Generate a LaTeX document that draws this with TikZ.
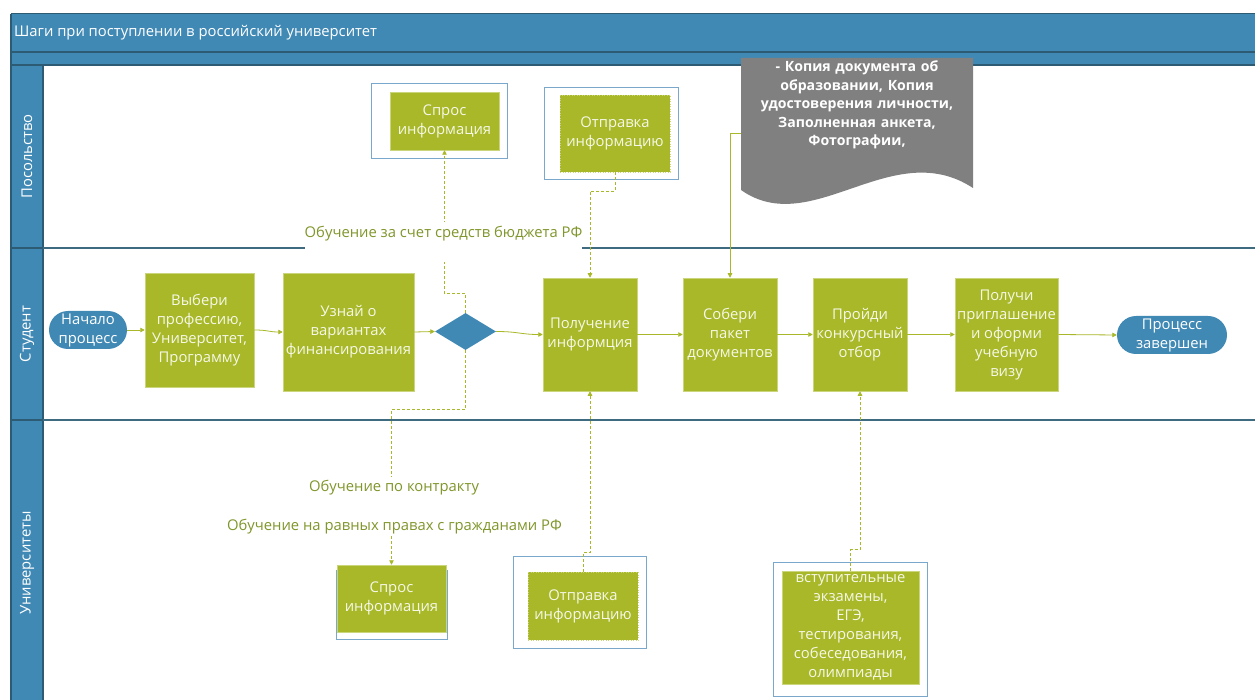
\documentclass[tikz,border=0pt]{standalone}
\usepackage{fontspec}
\setmainfont{Open Sans}
\usetikzlibrary{arrows.meta,shapes.geometric,calc}
\definecolor{lane}{HTML}{4189B5}
\definecolor{laneline}{HTML}{2D5B74}
\definecolor{divline}{HTML}{3F6B80}
\definecolor{grn}{HTML}{A8B828}
\definecolor{grnedge}{HTML}{CBD57C}
\definecolor{grntxt}{HTML}{F6F8E8}
\definecolor{lbl}{HTML}{7F962A}
\definecolor{frm}{HTML}{7AA8CC}
\definecolor{docg}{HTML}{808080}
\begin{document}
\begin{tikzpicture}[x=1pt,y=-1pt,
  body/.style={font=\fontsize{14.8}{19}\selectfont},
  task/.style={body, rectangle, fill=grn, draw=grnedge, line width=0.5, text=grntxt, align=center, inner sep=0},
  taskdot/.style={task, dotted, line width=0.8},
  pill/.style={body, rectangle, rounded corners=19, fill=lane, text=white, align=center, inner sep=0},
  gate/.style={diamond, fill=lane, inner sep=0, minimum width=61, minimum height=37},
  frame/.style={draw=frm, line width=0.9, fill=white, inner sep=0},
  flow/.style={draw=grn, line width=0.8, -{Triangle[width=4.5pt,length=4.5pt]}},
  dflow/.style={flow, dash pattern=on 3pt off 2pt},
  lbltxt/.style={body, text=lbl, fill=white, inner sep=0, anchor=base},
  lanetxt/.style={body, text=white, rotate=90}
]
\useasboundingbox (0,0) rectangle (1255,700);
\clip (0,0) rectangle (1255,700);
% pool frame
\fill[white] (0,0) rectangle (1255,700);
\fill[lane] (11,14) rectangle (1265,65);
\fill[lane] (11,65) rectangle (43,710);
\draw[laneline, line width=1] (11,14) -- (1265,14);
\draw[laneline, line width=1.3] (11,52) -- (1265,52);
\draw[laneline, line width=1.3] (11,65) -- (1265,65);
\draw[laneline, line width=1.2] (11,14) -- (11,710);
\draw[laneline, line width=1.2] (43,65) -- (43,710);
\draw[laneline, line width=1.2] (11,248) -- (43,248);
\draw[laneline, line width=1.2] (11,420) -- (43,420);
\draw[divline, line width=1.3] (43,248) -- (1265,248);
\draw[divline, line width=1.3] (43,420) -- (1265,420);
\node[body, text=white, anchor=west, inner sep=0] (title) at (14,33) {Шаги при поступлении в российский университет};
\node[lanetxt] (ln1) at (27,156.5) {Посольство};
\node[lanetxt] (ln2) at (27,334) {Студент};
\node[lanetxt] (ln3) at (27,563) {Университеты};

% document shape
\fill[docg] (741,58) -- (973,58) -- (973,188) .. controls (892,135) and (812,240) .. (741,190) -- cycle;
\node[font=\fontsize{14.1}{18.5}\selectfont\bfseries, text=white, align=center, inner sep=0, text width=232pt] (doc) at (857,105)
  {- Копия документа об\\образовании, Копия\\удостоверения личности,\\Заполненная анкета,\\Фотографии,};
\coordinate (docport) at (741,133);

% student lane
\node[pill, minimum width=78, minimum height=38] (start) at (88,330) {Начало\\процесс};
\node[task, minimum width=109, minimum height=114] (b1) at (199.5,330) {Выбери\\профессию,\\Университет,\\Программу};
\node[task, minimum width=131, minimum height=118] (b2) at (348.5,332) {Узнай о\\вариантах\\финансирования};
\node[gate] (d) at (465.5,331.5) {};
\node[task, minimum width=94, minimum height=113] (b3) at (590,334.5) {Получение\\информция};
\node[task, minimum width=94, minimum height=113] (b4) at (730,334.5) {Собери\\пакет\\документов};
\node[task, minimum width=94, minimum height=113] (b5) at (860,334.5) {Пройди\\конкурсный\\отбор};
\node[task, minimum width=103, minimum height=113] (b6) at (1006.5,334.5) {Получи\\приглашение\\и оформи\\учебную\\визу};
\node[pill, minimum width=110, minimum height=38] (end) at (1172,335) {Процесс\\завершен};

% embassy lane
\node[frame, minimum width=136, minimum height=75] (fa) at (439,120.5) {};
\node[task, minimum width=109, minimum height=58] (ta) at (444.5,121) {Спрос\\информация};
\node[frame, minimum width=134, minimum height=92] (fb) at (611,133) {};
\node[taskdot, minimum width=110, minimum height=77] (tb) at (615,133.5) {Отправка\\информацию};

% university lane
\node[frame, minimum width=111, minimum height=69] (fc) at (391.5,604.5) {};
\node[task, minimum width=109, minimum height=67] (tc) at (391.5,598.5) {Спрос\\информация};
\node[frame, minimum width=133, minimum height=92] (fd) at (579.5,602) {};
\node[taskdot, minimum width=110, minimum height=68] (td) at (583,606) {Отправка\\информацию};
\node[frame, minimum width=154, minimum height=134] (fe) at (850,629) {};
\node[task, minimum width=137, minimum height=113] (te) at (850.5,627.5) {вступительные\\экзамены,\\ЕГЭ,\\тестирования,\\собеседования,\\олимпиады};

% main flow
\draw[flow] (start.east) -- (b1.west);
\draw[flow] (b1.east) .. controls +(14,0) and +(-14,0) .. (b2.west);
\draw[flow] (b2.east) -- (d.west);
\draw[flow] (d.east) .. controls +(22,0) and +(-22,0) .. (b3.west);
\draw[flow] (b3) -- (b4);
\draw[flow] (b4) -- (b5);
\draw[flow] (b5) -- (b6);
\draw[flow] (b6.east) -- (end.west);

% cross-lane flows
\draw[dflow] (d.north) -- ++(0,-19) -| (ta.south);
\draw[dflow] (tb.south) -- ++(0,19) -| (b3.north);
\draw[flow] (docport) -| (b4.north);
\draw[dflow] (d.south) -- ++(0,59) -| (tc.north);
\draw[dflow] (td.north) -- ++(0,-19) -| (b3.south);
\draw[dflow] (te.north) -- ++(0,-21) -| (b5.south);

% labels
\node[lbltxt, text height=16pt, text depth=24pt] (l1) at (443.5,238) {Обучение за счет средств бюджета РФ};
\node[lbltxt, text height=14pt, text depth=15pt] (l2) at (394,491) {Обучение по контракту};
\node[lbltxt, text height=24pt, text depth=5pt] (l3) at (394.5,530) {Обучение на равных правах с гражданами РФ};
\end{tikzpicture}
\end{document}
